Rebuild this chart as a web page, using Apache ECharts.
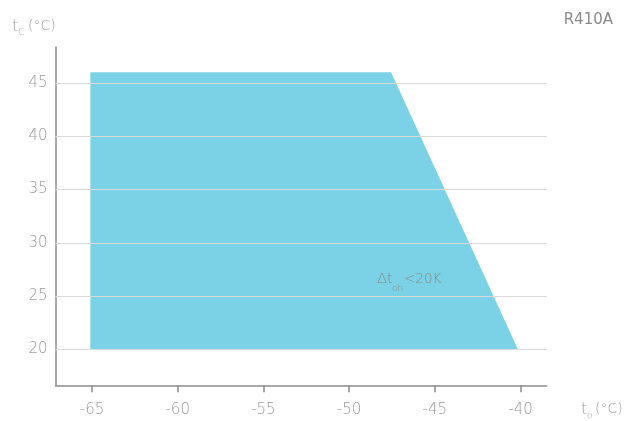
<!DOCTYPE html>
<html>
<head>
<meta charset="utf-8">
<script src="https://cdn.jsdelivr.net/npm/echarts@6/dist/echarts.min.js"></script>
<style>html,body{margin:0;padding:0;background:#fff}#c{width:624px;height:421px}</style>
</head>
<body>
<div id="c"></div>
<script>
const xTicks = [-65, -60, -55, -50, -45, -40];
const yTicks = [20, 25, 30, 35, 40, 45];
const envelopeTo = [-65.1, -65.1, -47.55, -40.15];
const envelopeTc = [20, 46, 46, 20];
const refrigerant = 'R410A';

const FONT = 'DejaVu Sans';
const LABEL = '#9a9a9a';
const envelopeData = envelopeTo.map((v, i) => [v, envelopeTc[i]]);

function txt(x, y, s, size, color, z) {
  return {type: 'text', left: x, top: y, z: z || 1, style: {text: s, fill: color || LABEL, font: '200 ' + size + 'px "DejaVu Sans"'}};
}

const chart = echarts.init(document.getElementById('c'), null, {renderer: 'canvas'});
chart.setOption({
  animation: false,
  grid: {left: 55.5, right: 77.3, top: 47, bottom: 35.7, containLabel: false},
  xAxis: {
    type: 'value', min: -67.13, max: -38.47,
    axisLine: {show: true, lineStyle: {color: '#8c8c8c', width: 1.5}},
    axisTick: {show: true, length: 7, customValues: xTicks, lineStyle: {color: '#8c8c8c', width: 1.5}},
    axisLabel: {customValues: xTicks, margin: 17, color: LABEL, fontFamily: FONT, fontSize: 15, fontWeight: 200},
    splitLine: {show: false}
  },
  yAxis: {
    type: 'value', min: 16.62, max: 48.38,
    axisLine: {show: true, lineStyle: {color: '#8c8c8c', width: 1.5}},
    axisTick: {show: false},
    axisLabel: {customValues: yTicks, margin: 8, color: LABEL, fontFamily: FONT, fontSize: 15, fontWeight: 200},
    splitLine: {show: false}
  },
  graphic: [
    {type: 'text', right: 11, top: 13, style: {text: refrigerant, fill: '#8a8a8a', font: '15px "DejaVu Sans"'}},
    txt(12, 19, 't', 16),
    txt(18, 28, 'C', 9),
    txt(28, 19, '(°C)', 14),
    txt(581, 402, 't', 16),
    txt(587, 411, 'o', 9),
    txt(595, 402, '(°C)', 14),
    txt(377, 272, 'Δt', 14.5, '#888888', 10),
    txt(392, 284, 'oh', 9, '#888888', 10),
    txt(404, 272, '<20K', 13.5, '#888888', 10)
  ],
  series: [
    {
      type: 'custom',
      z: 1,
      data: envelopeData,
      renderItem: function (params, api) {
        if (params.dataIndex !== 0) return null;
        const pts = envelopeData.map(p => api.coord(p));
        return {type: 'polygon', shape: {points: pts}, style: {fill: '#7bd2e6'}};
      },
      silent: true
    },
    {
      type: 'line',
      data: [],
      z: 5,
      markLine: {
        silent: true, symbol: 'none', label: {show: false},
        lineStyle: {color: '#d9d9d9', width: 1, type: 'solid'},
        data: yTicks.map(v => ({yAxis: v}))
      }
    }
  ]
});
</script>
</body>
</html>
